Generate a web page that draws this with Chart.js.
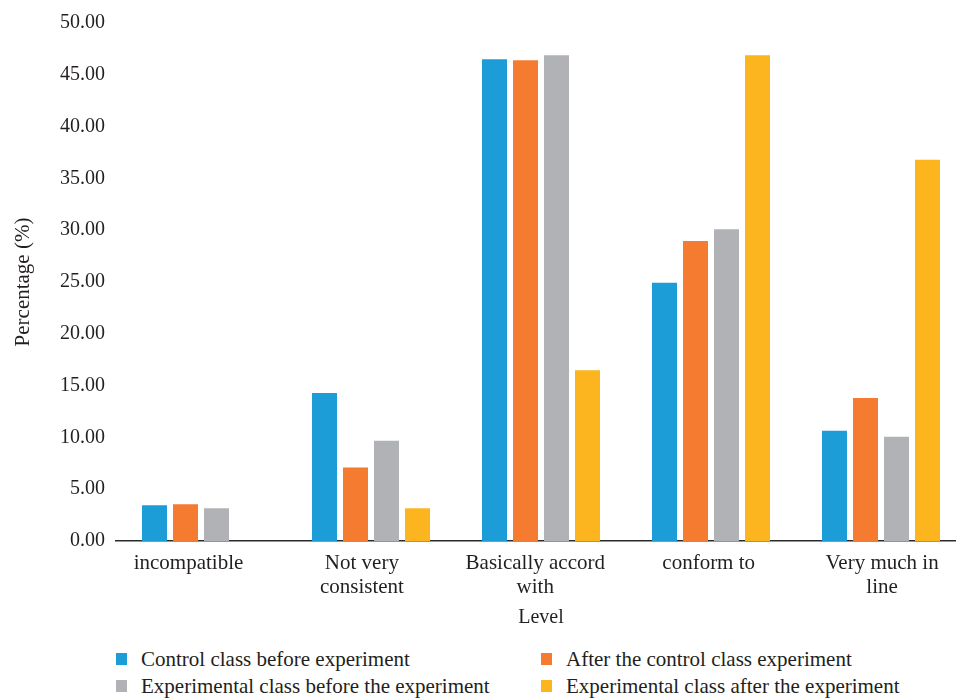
<!DOCTYPE html>
<html>
<head>
<meta charset="utf-8">
<script src="https://cdn.jsdelivr.net/npm/chart.js@4"></script>
<style>
  html, body { margin: 0; padding: 0; background: #fff; overflow: hidden; width: 956px; height: 699px; }
  #wrap { position: absolute; left: 0; top: 0; width: 970px; height: 645px; }
  #legend { position: absolute; left: 0; top: 0; font-family: "Liberation Serif", "Times New Roman", serif; font-size: 21px; color: #231f20; }
  .item { position: absolute; white-space: nowrap; line-height: 24px; }
  .box { position: absolute; width: 11px; height: 12px; }
</style>
</head>
<body>
<div id="wrap"><canvas id="c" width="970" height="645"></canvas></div>
<div id="legend"></div>
<script>
const categories = ["incompatible", "Not very consistent", "Basically accord with", "conform to", "Very much in line"];
const categoryLines = [["incompatible"], ["Not very", "consistent"], ["Basically accord", "with"], ["conform to"], ["Very much in", "line"]];
const seriesNames = ["Control class before experiment", "After the control class experiment", "Experimental class before the experiment", "Experimental class after the experiment"];
const controlBefore = [3.45, 14.29, 46.50, 24.93, 10.64];
const controlAfter = [3.55, 7.09, 46.40, 28.95, 13.80];
const experimentalBefore = [3.16, 9.68, 46.88, 30.10, 10.07];
const experimentalAfter = [0, 3.16, 16.49, 46.88, 36.80];
const colors = ["#1c9dd8", "#f47b30", "#b1b2b5", "#fcb51e"];
const yTicks = [0, 5, 10, 15, 20, 25, 30, 35, 40, 45, 50];

const seriesValues = [controlBefore, controlAfter, experimentalBefore, experimentalAfter];
const FONT = "'Liberation Serif', 'Times New Roman', serif";
const TEXT = "#231f20";

const chart = new Chart(document.getElementById('c'), {
  type: 'bar',
  data: {
    labels: categories,
    datasets: seriesValues.map((v, i) => ({
      label: seriesNames[i],
      data: v,
      backgroundColor: colors[i],
      borderWidth: 0,
      categoryPercentage: 0.7294,
      barPercentage: 0.806
    }))
  },
  options: {
    responsive: false,
    animation: false,
    layout: { padding: { top: 19, right: 4, left: 0, bottom: 0 } },
    plugins: { legend: { display: false }, tooltip: { enabled: false } },
    scales: {
      x: {
        type: 'category',
        display: false,
        offset: true
      },
      xl: {
        type: 'linear',
        position: 'bottom',
        min: -0.418,
        max: 4.484,
        offset: false,
        bounds: 'data',
        z: 2,
        grid: { display: false, drawTicks: false, offset: false },
        border: { display: true, color: '#2b2b2b', width: 1.6 },
        afterBuildTicks: (scale) => { scale.ticks = categories.map((c, i) => ({ value: i })); },
        afterFit: (scale) => { scale.height = 104; },
        ticks: {
          autoSkip: false,
          maxRotation: 0,
          minRotation: 0,
          padding: 10,
          color: TEXT,
          font: { family: FONT, size: 21, lineHeight: 1.143 },
          callback: (v) => categoryLines[v] || ''
        },
        title: {
          display: true,
          text: 'Level',
          color: TEXT,
          font: { family: FONT, size: 20, lineHeight: 1.2 },
          padding: { top: 0, bottom: 15 }
        }
      },
      y: {
        min: 0,
        max: 50,
        grid: { display: false, drawTicks: false },
        border: { display: false },
        afterBuildTicks: (scale) => { scale.ticks = yTicks.map(v => ({ value: v })); },
        afterFit: (scale) => { scale.width = 116; },
        ticks: {
          padding: 11,
          color: TEXT,
          font: { family: FONT, size: 20 },
          callback: (v) => Number(v).toFixed(2)
        },
        title: {
          display: true,
          text: 'Percentage (%)',
          color: TEXT,
          font: { family: FONT, size: 21, lineHeight: 1.2 },
          padding: { top: 11, bottom: 0 }
        }
      }
    }
  }
});

// HTML legend built from the datasets
const legendPos = [
  { bx: 116, tx: 141, cy: 659 },
  { bx: 541, tx: 566, cy: 659 },
  { bx: 116, tx: 141, cy: 686 },
  { bx: 541, tx: 566, cy: 686 }
];
const legend = document.getElementById('legend');
chart.data.datasets.forEach((ds, i) => {
  const p = legendPos[i];
  const box = document.createElement('div');
  box.className = 'box';
  box.style.left = p.bx + 'px';
  box.style.top = (p.cy - 6) + 'px';
  box.style.background = ds.backgroundColor;
  legend.appendChild(box);
  const t = document.createElement('div');
  t.className = 'item';
  t.style.left = p.tx + 'px';
  t.style.top = (p.cy - 12) + 'px';
  t.textContent = ds.label;
  legend.appendChild(t);
});
</script>
</body>
</html>
